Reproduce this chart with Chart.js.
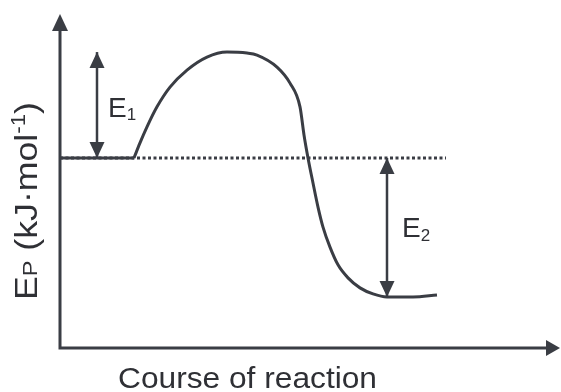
<!DOCTYPE html>
<html lang="en">
<head>
  <meta charset="UTF-8">
  <title>Potential energy diagram</title>
  <script src="https://cdn.jsdelivr.net/npm/chart.js"></script>
  <style>
    body { margin: 0; background: #fff; }
    #wrap { width: 561px; height: 392px; }
  </style>
</head>
<body>
<div id="wrap"><canvas id="myChart"></canvas></div>

<script>
  // Data (course of reaction 0..100, Ep in arbitrary units 0..100)
  const reactantLevel = 56.9;
  const flatX = [0, 14.8];
  const curveX = [14.8, 16.0, 17.4, 19.4, 22.0, 25.4, 29.4, 33.4, 37.4, 39.4, 43.4, 46.0, 48.0, 48.8, 49.6, 50.6, 51.6, 52.6, 54.0, 55.6, 57.6, 60.0, 62.6, 65.4, 70.6, 75.4];
  const curveY = [56.9, 61.4, 66.2, 72.2, 78.1, 83.2, 87.1, 88.6, 88.3, 87.7, 84.1, 79.3, 72.2, 63.8, 56.9, 49.4, 42.2, 36.2, 30.2, 24.9, 21.0, 18.0, 16.2, 15.3, 15.3, 15.9];
  const dottedEndX = 77.2;
  const e1X = 7.4, e1Top = 88.6;
  const e2X = 65.4, e2Bottom = 15.3;

  const ink = '#3a3d44';
  const textInk = '#2f3035';

  const pts = (xs, ys) => xs.map((x, i) => ({ x: x, y: ys[i] }));

  function arrowHead(ctx, x, y, dir, len, half) {
    // dir: 'up', 'down', 'right'
    ctx.beginPath();
    if (dir === 'up') { ctx.moveTo(x, y); ctx.lineTo(x - half, y + len); ctx.lineTo(x + half, y + len); }
    if (dir === 'down') { ctx.moveTo(x, y); ctx.lineTo(x - half, y - len); ctx.lineTo(x + half, y - len); }
    if (dir === 'right') { ctx.moveTo(x, y); ctx.lineTo(x - len, y - half); ctx.lineTo(x - len, y + half); }
    ctx.closePath();
    ctx.fill();
  }

  function richWidth(ctx, parts) {
    let w = 0;
    parts.forEach(p => {
      ctx.font = p.size + 'px "Liberation Sans", Arial, sans-serif';
      w += ctx.measureText(p.t).width;
    });
    return w;
  }

  // draws text pieces one after another, each with its own size and baseline shift
  function richText(ctx, x, y, parts) {
    let cx = x;
    parts.forEach(p => {
      ctx.font = p.size + 'px "Liberation Sans", Arial, sans-serif';
      ctx.fillText(p.t, cx, y + (p.dy || 0));
      cx += ctx.measureText(p.t).width;
    });
  }

  const diagramPlugin = {
    id: 'diagram',
    afterDatasetsDraw(chart) {
      const ctx = chart.ctx;
      const a = chart.chartArea;
      const xs = chart.scales.x, ys = chart.scales.y;
      ctx.save();
      ctx.strokeStyle = ink;
      ctx.fillStyle = ink;
      ctx.lineWidth = 3;

      // axes
      ctx.beginPath();
      ctx.moveTo(a.left, a.top + 12);
      ctx.lineTo(a.left, a.bottom);
      ctx.lineTo(a.right - 10, a.bottom);
      ctx.stroke();
      arrowHead(ctx, a.left, a.top, 'up', 17, 8);
      arrowHead(ctx, a.right, a.bottom, 'right', 14, 8);

      // arrowheads of E1 / E2
      const base = ys.getPixelForValue(reactantLevel);
      arrowHead(ctx, xs.getPixelForValue(e1X), ys.getPixelForValue(e1Top), 'up', 16, 7.5);
      arrowHead(ctx, xs.getPixelForValue(e1X), base, 'down', 16, 7.5);
      arrowHead(ctx, xs.getPixelForValue(e2X), base, 'up', 16, 7.5);
      arrowHead(ctx, xs.getPixelForValue(e2X), ys.getPixelForValue(e2Bottom), 'down', 16, 7.5);

      // labels
      ctx.fillStyle = textInk;
      ctx.textBaseline = 'alphabetic';
      const e1mid = (ys.getPixelForValue(e1Top) + base) / 2;
      richText(ctx, xs.getPixelForValue(e1X) + 11, e1mid + 12, [{ t: 'E', size: 28 }, { t: '1', size: 17, dy: 3 }]);
      const e2mid = (ys.getPixelForValue(e2Bottom) + base) / 2;
      richText(ctx, xs.getPixelForValue(e2X) + 15, e2mid + 10, [{ t: 'E', size: 28 }, { t: '2', size: 17, dy: 4 }]);

      // x title, stretched a little to the width of the original
      const xTitle = 'Course of reaction';
      ctx.font = '30px "Liberation Sans", Arial, sans-serif';
      const w = ctx.measureText(xTitle).width;
      ctx.save();
      ctx.translate(118, 388);
      ctx.scale(259 / w, 1);
      ctx.fillText(xTitle, 0, 0);
      ctx.restore();

      // y title
      const yParts = [
        { t: 'E', size: 32 }, { t: 'P', size: 21 }, { t: ' (kJ\u00B7mol', size: 32 },
        { t: '-1', size: 20, dy: -12 }, { t: ')', size: 32 }
      ];
      const yw = richWidth(ctx, yParts);
      ctx.save();
      ctx.translate(a.left - 23, 300);
      ctx.rotate(-Math.PI / 2);
      ctx.scale(198 / yw, 1);
      richText(ctx, 0, 0, yParts);
      ctx.restore();

      ctx.restore();
    }
  };

  const config = {
    type: 'scatter',
    data: {
      datasets: [
        { data: pts([0, dottedEndX], [reactantLevel, reactantLevel]), borderColor: ink, borderWidth: 3, borderDash: [3, 2.5], showLine: true, pointRadius: 0 },
        { data: pts(flatX, [reactantLevel, reactantLevel]), borderColor: ink, borderWidth: 3, showLine: true, pointRadius: 0 },
        { data: pts(curveX, curveY), borderColor: ink, borderWidth: 3, showLine: true, pointRadius: 0, cubicInterpolationMode: 'monotone' },
        { data: pts([e1X, e1X], [reactantLevel, e1Top]), borderColor: ink, borderWidth: 2.5, showLine: true, pointRadius: 0 },
        { data: pts([e2X, e2X], [reactantLevel, e2Bottom]), borderColor: ink, borderWidth: 2.5, showLine: true, pointRadius: 0 }
      ]
    },
    options: {
      responsive: true,
      maintainAspectRatio: false,
      animation: false,
      layout: { padding: { left: 60, right: 1, top: 14, bottom: 44 } },
      scales: {
        x: { type: 'linear', min: 0, max: 100, display: false },
        y: { type: 'linear', min: 0, max: 100, display: false }
      },
      plugins: { legend: { display: false }, tooltip: { enabled: false } }
    },
    plugins: [diagramPlugin]
  };

  const ctx = document.getElementById('myChart').getContext('2d');
  const myChart = new Chart(ctx, config);
</script>
</body>
</html>
